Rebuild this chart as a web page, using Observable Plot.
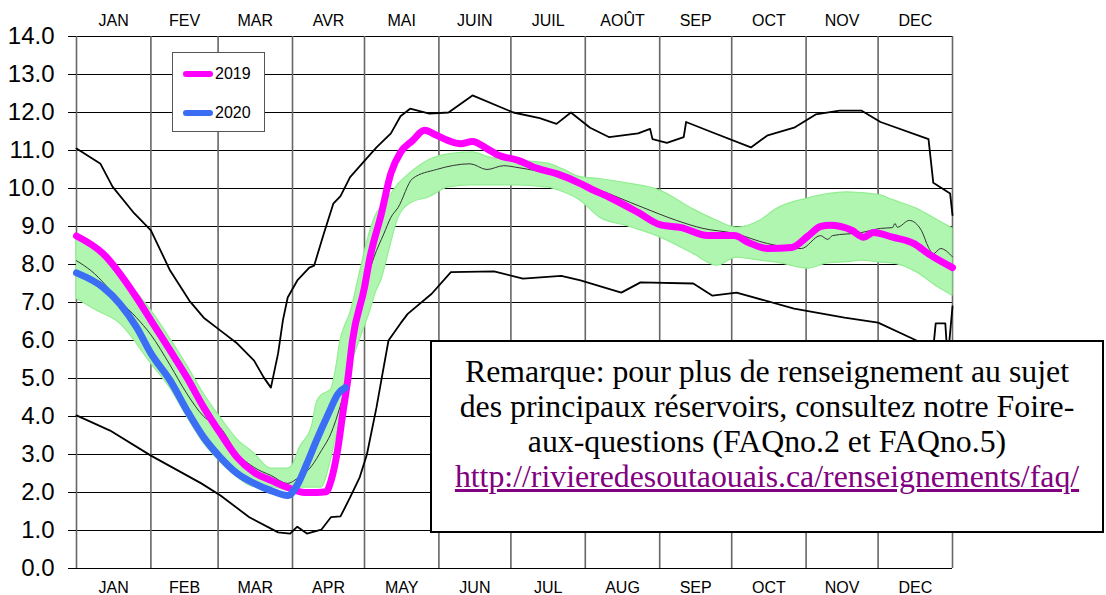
<!DOCTYPE html>
<html>
<head>
<meta charset="utf-8">
<script src="https://cdn.jsdelivr.net/npm/d3@7"></script>
<script src="https://cdn.jsdelivr.net/npm/@observablehq/plot@0.6"></script>
<style>
  body { margin: 0; background: #fff; }
  #wrap { position: relative; width: 1106px; height: 595px; overflow: hidden; }
  #legend { position: absolute; left: 172px; top: 52px; width: 91px; height: 78px; border: 1.5px solid #555; background: #fff;
            font-family: "Liberation Sans", Arial, sans-serif; font-size: 16px; color: #000; }
  .litem { position: absolute; left: 10px; height: 20px; }
  .lsw { position: absolute; left: 0; top: 7px; width: 30px; height: 6px; border-radius: 3px; }
  .ltx { position: absolute; left: 32px; top: 0; line-height: 20px; }
  #note { position: absolute; left: 430px; top: 340px; width: 670px; height: 189px; border: 2px solid #000; background: #fff;
          font-family: "Liberation Serif", "Times New Roman", serif; font-size: 31.8px; line-height: 35px; text-align: center; color: #000; }
  #note .inner { padding-top: 12px; }
  #note .url { color: #800080; text-decoration: underline; }
</style>
</head>
<body>
<div id="wrap"></div>
<script>
// ---------- axis / labels ----------
const monthStarts = [0, 31, 59, 90, 120, 151, 181, 212, 243, 273, 304, 334, 365];
const monthsFr = ["JAN", "FEV", "MAR", "AVR", "MAI", "JUIN", "JUIL", "AOÛT", "SEP", "OCT", "NOV", "DEC"];
const monthsEn = ["JAN", "FEB", "MAR", "APR", "MAY", "JUN", "JUL", "AUG", "SEP", "OCT", "NOV", "DEC"];
const yTicks = [0, 1, 2, 3, 4, 5, 6, 7, 8, 9, 10, 11, 12, 13, 14];
const seriesNames = ["2019", "2020"];
const noteLines = [
  "Remarque: pour plus de renseignement au sujet",
  "des principaux réservoirs, consultez notre Foire-",
  "aux-questions (FAQno.2 et FAQno.5)"
];
const noteUrl = "http://rivieredesoutaouais.ca/renseignements/faq/";

// ---------- data (day of year, value) ----------
const maxDays = [0, 10, 15, 24, 31, 39, 47, 53, 60, 67, 74, 78, 81, 84, 86, 88, 92, 97, 99, 103, 107, 110, 114, 121, 125, 131, 135, 139, 147, 155, 165, 182, 193, 200, 206, 214, 222, 234, 239, 240, 246, 253, 254, 264, 281, 288, 299, 308, 318, 327, 335, 355, 357, 364, 365];
const maxVals = [11.05, 10.65, 10.05, 9.35, 8.9, 7.84, 7.05, 6.6, 6.26, 5.92, 5.47, 5.03, 4.76, 5.66, 6.53, 7.13, 7.58, 7.92, 7.97, 8.8, 9.6, 9.8, 10.3, 10.8, 11.08, 11.45, 11.9, 12.1, 11.97, 12.0, 12.45, 12.0, 11.85, 11.7, 12.0, 11.6, 11.35, 11.45, 11.57, 11.3, 11.2, 11.35, 11.75, 11.5, 11.08, 11.4, 11.6, 11.95, 12.05, 12.05, 11.75, 11.3, 10.15, 9.87, 9.3];

const minDays = [0, 14, 31, 52, 60, 72, 84, 89, 92, 96, 102, 106, 110, 114, 118, 121, 125, 127, 130, 135, 138, 148, 156, 174, 186, 202, 210, 227, 235, 257, 265, 275, 299, 320, 334, 350, 357, 358, 362, 363, 365];
const minVals = [4.03, 3.63, 2.97, 2.24, 1.92, 1.35, 0.95, 0.92, 1.1, 0.92, 1.02, 1.35, 1.37, 1.87, 2.4, 3.0, 4.24, 4.95, 6.0, 6.45, 6.7, 7.23, 7.8, 7.82, 7.63, 7.7, 7.58, 7.26, 7.53, 7.5, 7.18, 7.26, 6.84, 6.6, 6.47, 6.0, 5.8, 6.45, 6.45, 5.5, 6.9];

const bandDays = [0, 8, 18, 31, 39, 46, 53, 60, 67, 74, 81, 88, 90, 93, 98, 100, 102, 106, 108, 110, 112, 114, 118, 122, 125, 127, 130, 134, 139, 147, 155, 165, 172, 182, 196, 203, 210, 218, 230, 243, 257, 267, 275, 285, 292, 305, 313, 321, 327, 335, 340, 350, 359, 365];
const bandLow = [7.1, 6.8, 6.45, 5.4, 4.75, 4.0, 3.3, 2.8, 2.4, 2.15, 2.15, 2.05, 2.1, 2.13, 2.13, 2.13, 2.13, 2.84, 3.4, 3.9, 4.5, 5.2, 6.0, 6.7, 7.3, 7.58, 8.29, 9.2, 9.6, 9.77, 10.03, 10.08, 10.08, 10.08, 10.03, 9.9, 9.68, 9.24, 9.0, 8.72, 8.28, 7.97, 8.18, 8.1, 8.05, 7.89, 8.03, 8.06, 8.1, 8.05, 8.03, 7.8, 7.4, 7.18];
const bandHigh = [8.7, 8.45, 7.75, 6.8, 6.05, 5.35, 4.6, 3.97, 3.4, 3.03, 2.63, 2.63, 2.71, 3.18, 3.71, 4.34, 4.55, 4.7, 5.2, 6.0, 6.4, 6.7, 7.76, 8.8, 9.33, 9.5, 9.75, 10.1, 10.4, 10.75, 10.9, 10.95, 10.82, 10.74, 10.66, 10.5, 10.3, 10.25, 10.13, 9.95, 9.45, 9.15, 8.97, 9.16, 9.47, 9.74, 9.85, 9.9, 9.88, 9.82, 9.7, 9.47, 9.16, 8.95];

const medDays = [0, 6, 18, 25, 31, 39, 46, 53, 60, 67, 74, 81, 88, 92, 98, 102, 106, 110, 112, 116, 121, 124, 128, 131, 134, 140, 150, 164, 171, 178, 184, 200, 215, 236, 250, 261, 274, 288, 302, 310, 313, 315, 327, 335, 340, 341, 342, 347, 352, 355, 357, 360, 365];
const medVals = [8.1, 7.84, 7.05, 6.6, 6.15, 5.35, 4.6, 4.0, 3.7, 3.03, 2.66, 2.45, 2.24, 2.37, 2.7, 3.1, 3.55, 4.3, 4.76, 6.1, 7.6, 8.2, 8.8, 9.24, 9.5, 10.26, 10.5, 10.65, 10.5, 10.6, 10.55, 10.34, 10.03, 9.5, 9.16, 8.95, 8.82, 8.55, 8.42, 8.76, 8.66, 8.76, 8.84, 8.95, 8.97, 9.08, 8.98, 9.16, 8.9, 8.45, 8.28, 8.42, 8.2];

const days2019 = [0, 11, 25, 31, 39, 46, 53, 60, 67, 74, 81, 88, 95, 100, 104, 106, 109, 111, 113, 115, 120, 122, 127, 131, 135, 140, 145, 150, 155, 160, 165, 171, 175, 184, 192, 200, 210, 214, 222, 234, 243, 252, 263, 274, 280, 288, 298, 305, 310, 314, 323, 328, 332, 340, 349, 355, 365];
const vals2019 = [8.75, 8.29, 7.13, 6.53, 5.74, 5.03, 4.24, 3.55, 2.92, 2.53, 2.32, 2.13, 2.0, 2.0, 2.02, 2.3, 3.2, 4.1, 4.95, 6.0, 7.4, 8.1, 9.33, 10.4, 10.95, 11.26, 11.53, 11.4, 11.26, 11.18, 11.24, 11.05, 10.9, 10.74, 10.53, 10.39, 10.13, 10.0, 9.77, 9.37, 9.05, 8.97, 8.76, 8.76, 8.58, 8.42, 8.45, 8.76, 9.0, 9.03, 8.9, 8.72, 8.84, 8.72, 8.55, 8.28, 7.92];

const days2020 = [0, 11, 18, 25, 31, 39, 46, 53, 60, 67, 74, 81, 88, 92, 96, 100, 105, 109, 112];
const vals2020 = [7.78, 7.4, 6.97, 6.35, 5.66, 4.95, 4.16, 3.45, 2.92, 2.5, 2.24, 2.05, 1.92, 2.2, 2.76, 3.37, 4.08, 4.6, 4.76];

// ---------- tables ----------
const toRows = (ds, vs) => ds.map((d, i) => ({d, v: vs[i]}));
const maxRows = toRows(maxDays, maxVals);
const minRows = toRows(minDays, minVals);
const medRows = toRows(medDays, medVals);
const rows2019 = toRows(days2019, vals2019);
const rows2020 = toRows(days2020, vals2020);
const bandRows = bandDays.map((d, i) => ({d, lo: bandLow[i], hi: bandHigh[i]}));
const monthMids = monthsFr.map((m, i) => ({mid: (monthStarts[i] + monthStarts[i + 1]) / 2, fr: m, en: monthsEn[i]}));

const colors = {"2019": "#ff00ff", "2020": "#3b6ef5"};
const font = "'Liberation Sans', Arial, sans-serif";

const chart = Plot.plot({
  width: 1106,
  height: 595,
  marginLeft: 76,
  marginRight: 154,
  marginTop: 36,
  marginBottom: 27,
  x: {domain: [0, 365], axis: null},
  y: {domain: [0, 14], axis: null},
  style: {fontFamily: font, background: "transparent", color: "#000"},
  marks: [
    Plot.ruleY(yTicks, {stroke: "#000", strokeWidth: 1.2}),
    Plot.ruleX(monthStarts, {stroke: "#666", strokeWidth: 1.6}),
    Plot.areaY(bandRows, {x: "d", y1: "lo", y2: "hi", fill: "#b0f6b0", stroke: "#93ee93", strokeWidth: 1.2, curve: "monotone-x"}),
    Plot.line(medRows, {x: "d", y: "v", stroke: "#333", strokeWidth: 1, curve: "monotone-x"}),
    Plot.line(maxRows, {x: "d", y: "v", stroke: "#000", strokeWidth: 1.8}),
    Plot.line(minRows, {x: "d", y: "v", stroke: "#000", strokeWidth: 1.8}),
    Plot.line(rows2019, {x: "d", y: "v", stroke: colors["2019"], strokeWidth: 7, strokeLinecap: "round", strokeLinejoin: "round", curve: "monotone-x"}),
    Plot.line(rows2020, {x: "d", y: "v", stroke: colors["2020"], strokeWidth: 7, strokeLinecap: "round", strokeLinejoin: "round", curve: "monotone-x"}),
    Plot.axisY({ticks: yTicks, tickFormat: d3.format(".1f"), tickSize: 8, tickPadding: 14, fontSize: 24, stroke: "#000", label: null}),
    Plot.text(monthMids, {x: "mid", text: "fr", frameAnchor: "top", lineAnchor: "middle", dy: -16, fontSize: 16, fill: "#000"}),
    Plot.text(monthMids, {x: "mid", text: "en", frameAnchor: "bottom", lineAnchor: "middle", dy: 19, fontSize: 16, fill: "#000"})
  ]
});

const wrap = document.getElementById("wrap");
wrap.appendChild(chart);

// legend
const legend = document.createElement("div");
legend.id = "legend";
seriesNames.forEach((name, i) => {
  const item = document.createElement("div");
  item.className = "litem";
  item.style.top = (11 + i * 39) + "px";
  const sw = document.createElement("div");
  sw.className = "lsw";
  sw.style.background = colors[name];
  const tx = document.createElement("div");
  tx.className = "ltx";
  tx.textContent = name;
  item.appendChild(sw);
  item.appendChild(tx);
  legend.appendChild(item);
});
wrap.appendChild(legend);

// note box
const note = document.createElement("div");
note.id = "note";
const inner = document.createElement("div");
inner.className = "inner";
noteLines.forEach(l => {
  const d = document.createElement("div");
  d.textContent = l;
  inner.appendChild(d);
});
const u = document.createElement("div");
const span = document.createElement("span");
span.className = "url";
span.textContent = noteUrl;
u.appendChild(span);
inner.appendChild(u);
note.appendChild(inner);
wrap.appendChild(note);
</script>
</body>
</html>
